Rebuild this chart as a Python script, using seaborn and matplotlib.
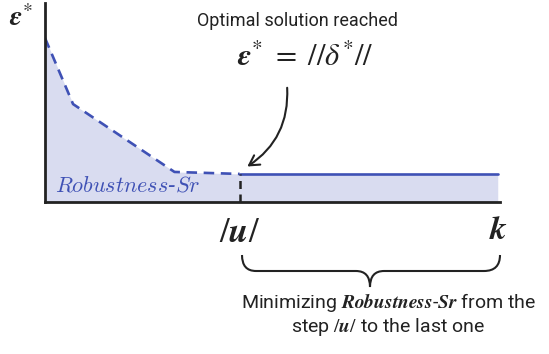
import numpy as np
import pandas as pd
import matplotlib
matplotlib.use("Agg")
import matplotlib.pyplot as plt
import seaborn as sns
from matplotlib.path import Path
from matplotlib.patches import PathPatch, FancyArrowPatch
from matplotlib.transforms import Affine2D

# veri: adım (x) ve epsilon* (y)
adim_kesikli = [0.0, 0.62, 2.86, 4.3]
eps_kesikli = [0.824, 0.492, 0.151, 0.141]
adim_duz = [4.3, 10.0]
eps_duz = [0.141, 0.141]
u_adim = 4.3
k_adim = 10.0

mavi = "#3f51b5"
dolgu = "#d9dcf0"
koyu = "#222222"

sns.set_style("white")
plt.rcParams["font.family"] = ["Roboto", "DejaVu Sans"]
plt.rcParams["mathtext.fontset"] = "cm"

W, H = 549, 354
fig = plt.figure(figsize=(W / 100, H / 100), dpi=100)
ax = fig.add_axes([45 / W, 152 / H, 455 / W, 199 / H])

# piksel koordinatı (sol üst köşe) -> figür
px = Affine2D().scale(1 / W, -1 / H).translate(0, 1) + fig.transFigure

df_k = pd.DataFrame({"adim": adim_kesikli, "eps": eps_kesikli})
df_d = pd.DataFrame({"adim": adim_duz, "eps": eps_duz})

tum_x = adim_kesikli + adim_duz[1:]
tum_y = eps_kesikli + eps_duz[1:]
ax.fill_between(tum_x, tum_y, 0, color=dolgu, linewidth=0)

sns.lineplot(data=df_k, x="adim", y="eps", ax=ax, color=mavi, linewidth=1.9,
             linestyle=(0, (4, 2.5)))
sns.lineplot(data=df_d, x="adim", y="eps", ax=ax, color=mavi, linewidth=1.9)
ax.plot([u_adim, u_adim], [0, eps_duz[0]], color=koyu, linewidth=1.8,
        linestyle=(0, (3.2, 2.2)))

ax.set_xlim(0, 10.05)
ax.set_ylim(0, 1)
ax.set_xticks([])
ax.set_yticks([])
ax.set_xlabel("")
ax.set_ylabel("")
for s in ["top", "right"]:
    ax.spines[s].set_visible(False)
for s in ["left", "bottom"]:
    ax.spines[s].set_color(koyu)
    ax.spines[s].set_linewidth(2)

# yazılar
fig.text(21, 18, r"$\mathbfit{\varepsilon}^{*}$", transform=px, ha="center", va="center",
         fontsize=20, color=koyu, math_fontfamily="stix")
fig.text(297, 21, "Optimal solution reached", transform=px, ha="center", va="center",
         fontsize=13, color=koyu)
fig.text(305, 57, r"$\mathbfit{\varepsilon}^{*}\ =\ //\delta^{*}//$", transform=px,
         ha="center", va="center", fontsize=22, color=koyu, math_fontfamily="stix")
fig.text(55, 186, r"$\mathit{Robustness}$-$\mathit{Sr}$", transform=px, ha="left",
         va="center", fontsize=16, color=mavi, family="DejaVu Serif", style="italic")
fig.text(240, 232, r"$/\mathbfit{u}/$", transform=px, ha="center", va="center",
         fontsize=25, color=koyu, math_fontfamily="stix")
fig.text(498, 230, r"$\mathbfit{k}$", transform=px, ha="center", va="center",
         fontsize=24, color=koyu, math_fontfamily="stix")
fig.text(388, 303, r"Minimizing $\mathbfit{Robustness}$-$\mathbfit{Sr}$ from the",
         transform=px, ha="center", va="center", fontsize=14,
         color=koyu, math_fontfamily="stix")
fig.text(388, 327, r"step $/\mathbfit{u}/$ to the last one", transform=px, ha="center",
         va="center", fontsize=14, color=koyu, math_fontfamily="stix")

# ok
ok = FancyArrowPatch((287, 85), (245, 168), transform=px,
                     connectionstyle="arc3,rad=-0.3",
                     arrowstyle="->,head_length=7,head_width=4",
                     color=koyu, linewidth=1.5)
fig.patches.append(ok)

# süslü parantez
v = [(242, 255), (242, 271), (256, 271), (356, 271), (370, 271), (370, 287),
     (370, 271), (384, 271), (484, 271), (500, 271), (500, 255)]
c = [Path.MOVETO, Path.CURVE3, Path.CURVE3, Path.LINETO, Path.CURVE3, Path.CURVE3,
     Path.CURVE3, Path.CURVE3, Path.LINETO, Path.CURVE3, Path.CURVE3]
parantez = PathPatch(Path(v, c), transform=px, fill=False, edgecolor=koyu, linewidth=1.5)
fig.patches.append(parantez)

fig.savefig("out.png", dpi=100)
